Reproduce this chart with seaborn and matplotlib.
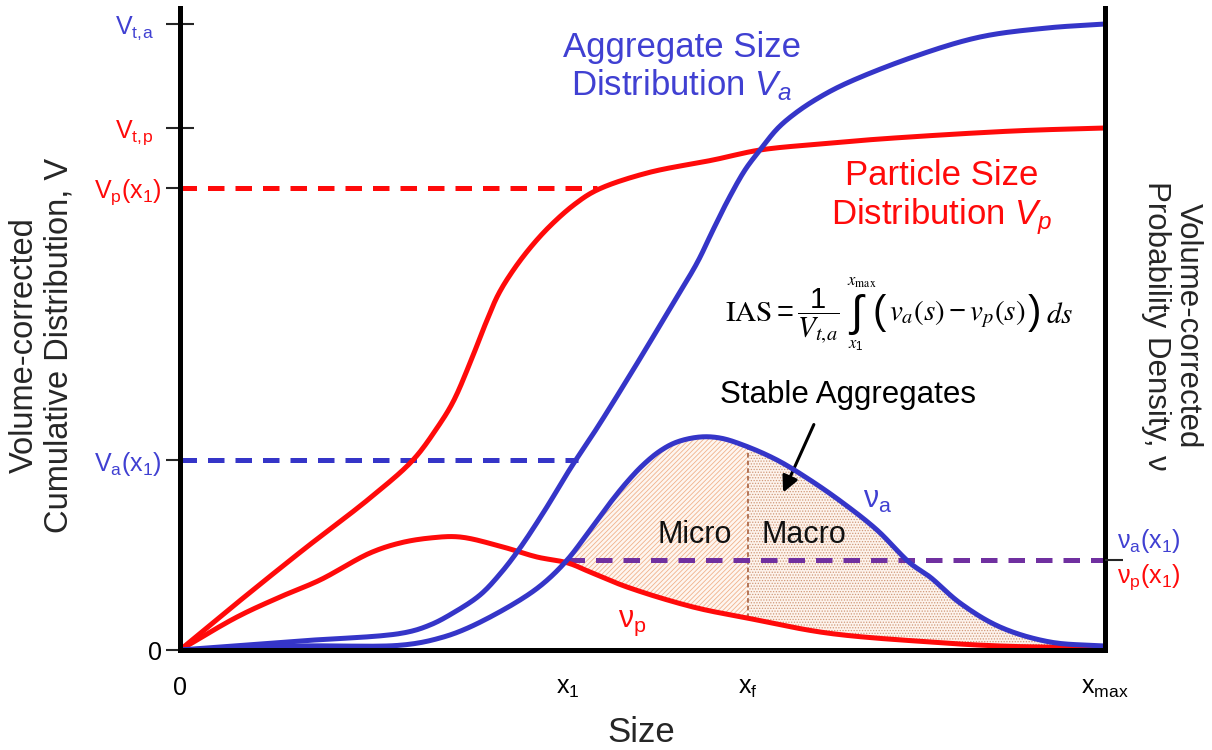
import numpy as np
import pandas as pd
import matplotlib
matplotlib.use("Agg")
import matplotlib.pyplot as plt
import seaborn as sns

# ---------------- data (arbitrary size / volume units) ----------------
# Particle cumulative distribution V_p
x_Vp = [0, 57, 123, 190, 233, 257, 273, 290, 305, 318, 332, 350, 370, 395, 417, 467, 533, 580, 640, 700, 833, 925]
y_Vp = [0, 47, 100, 152, 190, 222, 248, 287, 325, 355, 378, 402, 424, 446, 460, 477, 490, 500, 506, 511, 519, 522]
# Aggregate cumulative distribution V_a
x_Va = [0, 120, 223, 250, 273, 300, 320, 340, 365, 390, 417, 442, 467, 492, 517, 533, 548, 565, 580, 598, 617, 640, 667, 733, 800, 867, 925]
y_Va = [0, 9, 17, 25, 37, 55, 76, 102, 140, 181, 222, 262, 303, 345, 387, 420, 450, 480, 500, 522, 538, 553, 567, 593, 613, 622, 626]
# Aggregate probability density nu_a
x_na = [0, 120, 223, 260, 290, 340, 365, 388, 410, 430, 447, 463, 480, 497, 520, 540, 563, 597, 630, 663, 697, 730, 750, 780, 820, 870, 925]
y_na = [0, 4, 5, 12, 23, 50, 68, 91, 120, 147, 168, 185, 199, 208, 213, 212, 205, 190, 170, 147, 120, 87, 73, 47, 23, 8, 4]
# Particle probability density nu_p
x_np = [0, 57, 100, 140, 190, 220, 250, 280, 323, 357, 388, 410, 447, 513, 567, 647, 750, 820, 925]
y_np = [0, 33, 53, 70, 97, 107, 112, 113, 103, 93, 87, 78, 63, 43, 32, 17, 8, 4, 2]

# characteristic sizes and levels
x_ticks = [0, 388, 568, 925]
x_labels = ["$0$", "$x_1$", "$x_f$", "$x_{max}$"]
X1, XF, XMAX = 388, 568, 925
Va_x1, Vp_x1, Vt_p, Vt_a = 190, 462, 522, 626
nu_x1 = 90
YTOP = 642

RED = "#ff0a0a"
BLUE = "#3535c8"
BLUE_T = "#4040d2"
PURPLE = "#7030a0"


def smooth(xs, ys, n=16, alpha=0.5):
    """Centripetal Catmull-Rom rendering of a polyline through the read points."""
    P = np.column_stack([xs, ys]).astype(float)
    P = np.vstack([2 * P[0] - P[1], P, 2 * P[-1] - P[-2]])
    out = [P[1]]
    for i in range(1, len(P) - 2):
        p0, p1, p2, p3 = P[i - 1], P[i], P[i + 1], P[i + 2]
        t0 = 0.0
        t1 = t0 + np.linalg.norm(p1 - p0) ** alpha
        t2 = t1 + np.linalg.norm(p2 - p1) ** alpha
        t3 = t2 + np.linalg.norm(p3 - p2) ** alpha
        t = np.linspace(t1, t2, n)[1:, None]
        a1 = (t1 - t) / (t1 - t0) * p0 + (t - t0) / (t1 - t0) * p1
        a2 = (t2 - t) / (t2 - t1) * p1 + (t - t1) / (t2 - t1) * p2
        a3 = (t3 - t) / (t3 - t2) * p2 + (t - t2) / (t3 - t2) * p3
        b1 = (t2 - t) / (t2 - t0) * a1 + (t - t0) / (t2 - t0) * a2
        b2 = (t3 - t) / (t3 - t1) * a2 + (t - t1) / (t3 - t1) * a3
        c = (t2 - t) / (t2 - t1) * b1 + (t - t1) / (t2 - t1) * b2
        out.extend(list(c))
    out = np.array(out)
    return out[:, 0], out[:, 1]


sns.set_style("white")
plt.rcParams["font.family"] = ["Liberation Sans", "DejaVu Sans"]
plt.rcParams["mathtext.fontset"] = "custom"
plt.rcParams["mathtext.rm"] = "Liberation Sans"
plt.rcParams["mathtext.it"] = "Liberation Sans:italic"
plt.rcParams["mathtext.bf"] = "Liberation Sans:bold"
plt.rcParams["mathtext.default"] = "regular"
plt.rcParams["hatch.linewidth"] = 0.6

fig = plt.figure(figsize=(12.12, 7.5), dpi=100)
ax = fig.add_axes([180 / 1212, 100 / 750, 925 / 1212, 642 / 750])
ax.set_xlim(0, XMAX)
ax.set_ylim(0, YTOP)

sVp = smooth(x_Vp, y_Vp)
sVa = smooth(x_Va, y_Va)
sna = smooth(x_na, y_na)
snp = smooth(x_np, y_np)

# ---------------- shaded stable-aggregate area ----------------
grid = np.linspace(X1, XMAX, 500)
top = np.interp(grid, sna[0], sna[1])
bot = np.interp(grid, snp[0], snp[1])
m = grid <= XF
ax.fill_between(grid[m], bot[m], top[m], facecolor="#fef6f0", edgecolor="#f0b28c",
                hatch="///////", linewidth=0, zorder=1)
m2 = grid >= XF
ax.fill_between(grid[m2], bot[m2], top[m2], facecolor="#fdf3ec", edgecolor="#cf9878",
                hatch="......", linewidth=0, zorder=1)
ax.vlines(XF, np.interp(XF, snp[0], snp[1]), np.interp(XF, sna[0], sna[1]), color="#a0522d",
          lw=1.1, linestyles=(0, (3, 2)), zorder=2)

# ---------------- reference dashed lines ----------------
dash = (0, (3.3, 2.2))
ax.hlines(Va_x1, 0, 398, color=BLUE, lw=3.6, linestyles=dash, zorder=3)
ax.hlines(Vp_x1, 0, 417, color=RED, lw=3.6, linestyles=dash, zorder=3)
ax.hlines(nu_x1, X1, XMAX, color=PURPLE, lw=3.6, linestyles=dash, zorder=3)

# ---------------- curves ----------------
for (xs, ys), c in [(sVp, RED), (snp, RED), (sVa, BLUE), (sna, BLUE)]:
    df = pd.DataFrame({"size": xs, "v": ys})
    sns.lineplot(data=df, x="size", y="v", ax=ax, color=c, lw=3.6, sort=False,
                 estimator=None, zorder=4, solid_capstyle="round", solid_joinstyle="round")

ax.set_xlabel("")
ax.set_ylabel("")

# ---------------- axes styling ----------------
for s in ["left", "right", "bottom"]:
    ax.spines[s].set_visible(True)
    ax.spines[s].set_linewidth(3.6)
    ax.spines[s].set_color("black")
    ax.spines[s].set_zorder(5)
ax.spines["top"].set_visible(False)

ax.set_xticks(x_ticks, labels=x_labels)
ax.tick_params(axis="x", direction="inout", length=20, width=1.5, pad=9, labelsize=18, colors="black")

ax.set_yticks([0, Va_x1, Vp_x1], labels=["$0$", "$V_a(x_1)$", "$V_p(x_1)$"])
ax.set_yticks([Vt_p, Vt_a], labels=[r"$V_{t,\!p}$", r"$V_{t,\!a}$"], minor=True)
ax.tick_params(axis="y", which="major", direction="out", length=10, width=1.5, pad=3,
               labelsize=18, left=True)
ax.tick_params(axis="y", which="minor", direction="inout", length=20, width=1.5, pad=9,
               labelsize=18, left=True)
for lab, c in zip(ax.get_yticklabels(), ["black", BLUE_T, RED]):
    lab.set_color(c)
for lab, c in zip(ax.get_yticklabels(minor=True), [RED, BLUE_T]):
    lab.set_color(c)

ax2 = ax.twinx()
ax2.set_ylim(0, YTOP)
ax2.set_yticks([nu_x1], labels=[""])
ax2.tick_params(axis="y", direction="out", length=13, width=1.5, right=True)
for s in ax2.spines.values():
    s.set_visible(False)
ax2.grid(False)

# ---------------- texts ----------------
ax.text(502, 583, "Aggregate Size\nDistribution $\\mathit{V_a}$", color=BLUE_T, fontsize=25,
        ha="center", va="center", multialignment="center", linespacing=1.15)
ax.text(762, 452, "Particle Size\nDistribution $\\mathit{V_p}$", color=RED, fontsize=25,
        ha="center", va="center", multialignment="center", linespacing=1.15)
ax.text(668, 255, "Stable Aggregates", fontsize=22.5, ha="center", va="center", color="black")
ax.annotate("", xy=(602, 155), xytext=(635, 228),
            arrowprops=dict(arrowstyle="-|>", lw=2.2, color="black", mutation_scale=24))
ax.text(515, 115, "Micro", fontsize=22, ha="center", va="center", color="#111111")
ax.text(624, 115, "Macro", fontsize=22, ha="center", va="center", color="#111111")
ax.text(698, 150, "$ν_a$", fontsize=22, ha="center", va="center", color=BLUE_T)
ax.text(452, 27, "$ν_p$", fontsize=22, ha="center", va="center", color=RED)

# formula (Times-like), assembled piece by piece
fk = dict(math_fontfamily="stix", color="black")
t_lhs = ax.text(545, 334, r"$\mathrm{IAS}=\dfrac{1}{\mathit{V_{t,\!a}}}$", fontsize=21,
                ha="left", va="center", **fk)
t_int = ax.annotate(r"$\int$", xy=(1, 0.5), xycoords=t_lhs, xytext=(6, 1),
                    textcoords="offset points", fontsize=32, ha="left", va="center", **fk)
ax.annotate(r"$\mathit{x}_{\mathrm{max}}$", xy=(0.5, 1), xycoords=t_int, xytext=(3, 2),
            textcoords="offset points", fontsize=12, ha="center", va="bottom", **fk)
ax.annotate(r"$\mathit{x}_{1}$", xy=(0.5, 0), xycoords=t_int, xytext=(-1, -1),
            textcoords="offset points", fontsize=12, ha="center", va="top", **fk)
t_po = ax.annotate(r"$($", xy=(1, 0.5), xycoords=t_int, xytext=(4, 1),
                   textcoords="offset points", fontsize=29, ha="left", va="center", **fk)
t_in = ax.annotate(r"$\mathit{v_a(s)} - \mathit{v_p(s)}$", xy=(1, 0.5), xycoords=t_po,
                   xytext=(1, -1), textcoords="offset points", fontsize=21, ha="left", va="center", **fk)
t_pc = ax.annotate(r"$)$", xy=(1, 0.5), xycoords=t_in, xytext=(1, 1),
                   textcoords="offset points", fontsize=29, ha="left", va="center", **fk)
ax.annotate(r"$\mathit{ds}$", xy=(1, 0.5), xycoords=t_pc, xytext=(5, -1),
            textcoords="offset points", fontsize=21, ha="left", va="center", **fk)

# right-side tick labels
fig.text(1117 / 1212, 1 - 541 / 750, "$ν_a(x_1)$", color=BLUE_T, fontsize=18, ha="left", va="center")
fig.text(1117 / 1212, 1 - 577 / 750, "$ν_p(x_1)$", color=RED, fontsize=18, ha="left", va="center")

# axis titles
fig.text(42 / 1212, 1 - 345 / 750, "Volume-corrected\nCumulative Distribution, V", rotation=90,
         fontsize=23.5, ha="center", va="center", multialignment="center", linespacing=1.15)
fig.text(1172 / 1212, 1 - 326 / 750, "Volume-corrected\nProbability Density, ν", rotation=270,
         fontsize=22.5, ha="center", va="center", multialignment="center", linespacing=1.1)
fig.text(641 / 1212, 1 - 733 / 750, "Size", fontsize=25, ha="center", va="center")

fig.savefig("out.png", dpi=100)
